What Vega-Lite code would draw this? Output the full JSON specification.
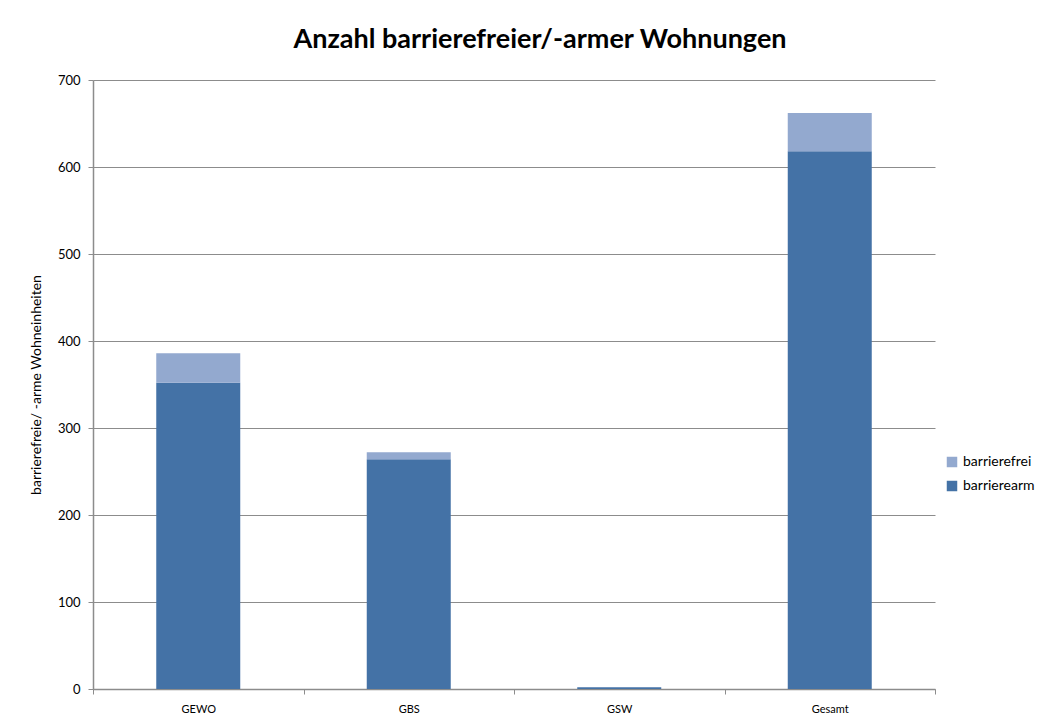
{
  "$schema": "https://vega.github.io/schema/vega-lite/v6.json",
  "autosize": {"type": "none"},
  "padding": {"left": 93, "top": 80, "right": 126, "bottom": 33},
  "width": 842,
  "height": 609,
  "background": "white",
  "title": {
    "text": "Anzahl barrierefreier/-armer Wohnungen",
    "font": "Lato",
    "fontSize": 27,
    "fontWeight": "bold",
    "color": "#000000",
    "anchor": "middle",
    "dx": 26,
    "offset": 20
  },
  "data": {
    "values": [
      {"Gesellschaft": "GEWO", "Art": "barrierearm", "Anzahl": 352, "o": 1},
      {"Gesellschaft": "GEWO", "Art": "barrierefrei", "Anzahl": 34, "o": 2},
      {"Gesellschaft": "GBS", "Art": "barrierearm", "Anzahl": 264, "o": 1},
      {"Gesellschaft": "GBS", "Art": "barrierefrei", "Anzahl": 8, "o": 2},
      {"Gesellschaft": "GSW", "Art": "barrierearm", "Anzahl": 2, "o": 1},
      {"Gesellschaft": "GSW", "Art": "barrierefrei", "Anzahl": 0, "o": 2},
      {"Gesellschaft": "Gesamt", "Art": "barrierearm", "Anzahl": 618, "o": 1},
      {"Gesellschaft": "Gesamt", "Art": "barrierefrei", "Anzahl": 44, "o": 2}
    ]
  },
  "mark": {"type": "bar", "size": 84},
  "encoding": {
    "x": {
      "field": "Gesellschaft",
      "type": "nominal",
      "sort": ["GEWO", "GBS", "GSW", "Gesamt"],
      "scale": {"paddingInner": 0, "paddingOuter": 0},
      "axis": {
        "title": null,
        "labelAngle": 0,
        "labelFont": "Lato",
        "labelFontSize": 11,
        "labelColor": "#000000",
        "labelPadding": 9,
        "tickBand": "extent",
        "tickSize": 5,
        "tickColor": "#8c8c8c",
        "domainColor": "#8c8c8c",
        "domainWidth": 1.5
      }
    },
    "y": {
      "field": "Anzahl",
      "type": "quantitative",
      "stack": "zero",
      "scale": {"domain": [0, 700], "nice": false},
      "axis": {
        "title": "barrierefreie/ -arme Wohneinheiten",
        "titleFont": "Lato",
        "titleFontSize": 14,
        "titleFontWeight": "normal",
        "titleColor": "#000000",
        "titlePadding": 14,
        "values": [0, 100, 200, 300, 400, 500, 600, 700],
        "labelFont": "Lato",
        "labelFontSize": 13,
        "labelColor": "#000000",
        "labelPadding": 8,
        "tickSize": 5,
        "tickColor": "#8c8c8c",
        "domainColor": "#8c8c8c",
        "domainWidth": 1.5,
        "grid": true,
        "gridColor": "#8c8c8c",
        "gridWidth": 1
      }
    },
    "color": {
      "field": "Art",
      "type": "nominal",
      "scale": {"domain": ["barrierefrei", "barrierearm"], "range": ["#93a9cf", "#4472a6"]},
      "legend": {
        "title": null,
        "orient": "none",
        "legendX": 852,
        "legendY": 375,
        "symbolType": "square",
        "symbolSize": 110,
        "symbolStrokeWidth": 0,
        "labelFont": "Lato",
        "labelFontSize": 14,
        "labelColor": "#000000",
        "rowPadding": 10
      }
    },
    "order": {"field": "o", "type": "quantitative"}
  },
  "config": {"view": {"stroke": null}}
}
